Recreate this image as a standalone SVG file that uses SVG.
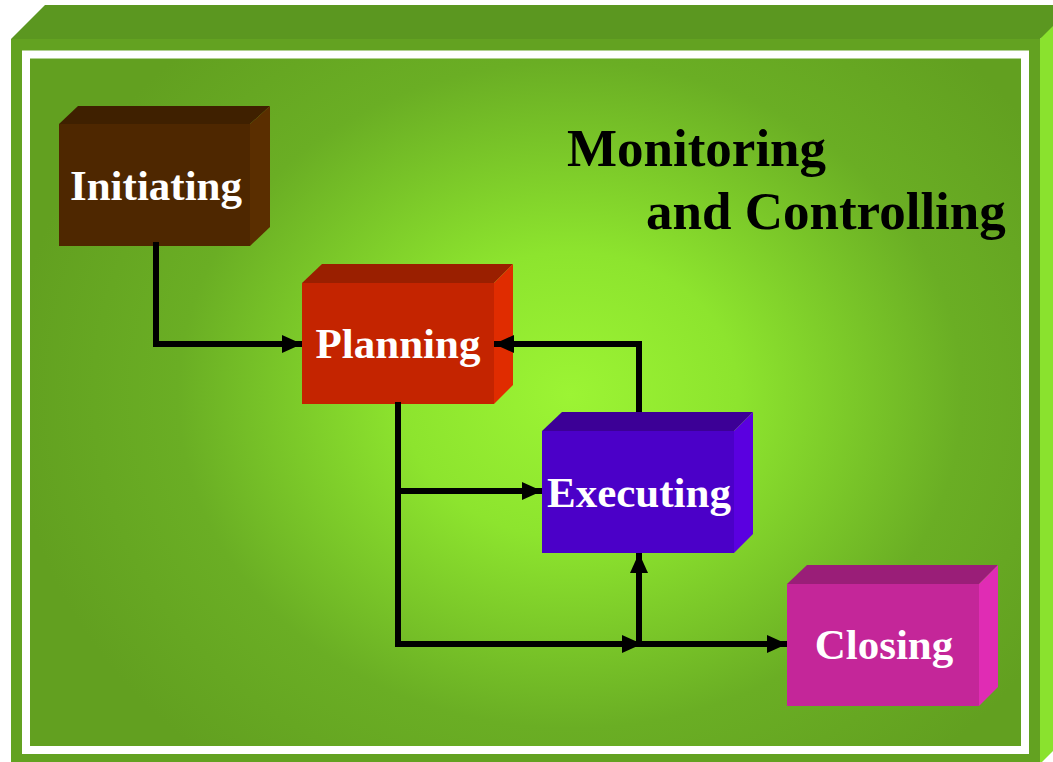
<svg xmlns="http://www.w3.org/2000/svg" width="1053" height="762" viewBox="0 0 1053 762">
<style>
.lbl{font-family:"Liberation Serif","Times New Roman",serif;font-weight:bold;font-size:43px;fill:#ffffff;text-anchor:middle}
.title{font-family:"Liberation Serif","Times New Roman",serif;font-weight:bold;font-size:53px;fill:#000000}
.conn{fill:none;stroke:#000;stroke-width:6;stroke-linejoin:miter}
</style>
<defs>
<radialGradient id="bg" gradientUnits="userSpaceOnUse" cx="570" cy="395" r="560" gradientTransform="translate(570 395) scale(1 0.85) translate(-570 -395)">
<stop offset="0" stop-color="#9cf434"/>
<stop offset="0.3" stop-color="#8de42e"/>
<stop offset="0.7" stop-color="#6aae24"/>
<stop offset="1" stop-color="#62a020"/>
</radialGradient>
<marker id="ah" markerUnits="userSpaceOnUse" markerWidth="21" markerHeight="20" refX="20" refY="10" orient="auto">
<path d="M0,1 L20,10 L0,19 Z" fill="#000"/>
</marker>
</defs>
<g id="frame">
<polygon points="11,39 45,5 1090,5 1040,39" fill="#5b9720"/>
<polygon points="1040,39 1074,5 1074,730 1040,764" fill="#8ae22e"/>
<rect x="11" y="39" width="1029" height="725" fill="#63a221"/>
<rect x="30" y="59" width="991" height="687" fill="url(#bg)"/>
<rect x="26" y="54.5" width="999" height="695.5" fill="none" stroke="#ffffff" stroke-width="8"/>
</g>
<g id="title">
<text class="title" x="567" y="166">Monitoring</text>
<text class="title" x="646" y="229">and Controlling</text>
</g>
<g id="initiating">
<polygon points="59,124 78,106 270,106 250,124" fill="#3f2000"/>
<polygon points="250,124 270,106 270,227 250,246" fill="#5a2e00"/>
<rect x="59" y="124" width="191" height="122" fill="#4e2700"/>
<text class="lbl" x="156" y="200">Initiating</text>
</g>
<g id="planning">
<polygon points="302,283 322,264 513,264 494,283" fill="#9a1f00"/>
<polygon points="494,283 513,264 513,385 494,404" fill="#e02c00"/>
<rect x="302" y="283" width="192" height="121" fill="#c42400"/>
<text class="lbl" x="398" y="358">Planning</text>
</g>
<g id="executing">
<polygon points="542,431 562,412 753,412 734,431" fill="#3c0096"/>
<polygon points="734,431 753,412 753,534 734,553" fill="#5a00e0"/>
<rect x="542" y="431" width="192" height="122" fill="#4b00c8"/>
<text class="lbl" x="639" y="507">Executing</text>
</g>
<g id="closing">
<polygon points="787,584 807,565 998,565 979,584" fill="#9a1e78"/>
<polygon points="979,584 998,565 998,687 979,706" fill="#e02cb4"/>
<rect x="787" y="584" width="192" height="122" fill="#c42699"/>
<text class="lbl" x="884" y="659">Closing</text>
</g>
<g id="connectors">
<path class="conn" d="M156,242 V344 H302" marker-end="url(#ah)"/>
<path class="conn" d="M639,412 V344 H494" marker-end="url(#ah)"/>
<path class="conn" d="M398,402 V491 H542" marker-end="url(#ah)"/>
<path class="conn" d="M398,488 V644 H642" marker-end="url(#ah)"/>
<path class="conn" d="M636,644 H787" marker-end="url(#ah)"/>
<path class="conn" d="M639,646 V553" marker-end="url(#ah)"/>
</g>
</svg>
